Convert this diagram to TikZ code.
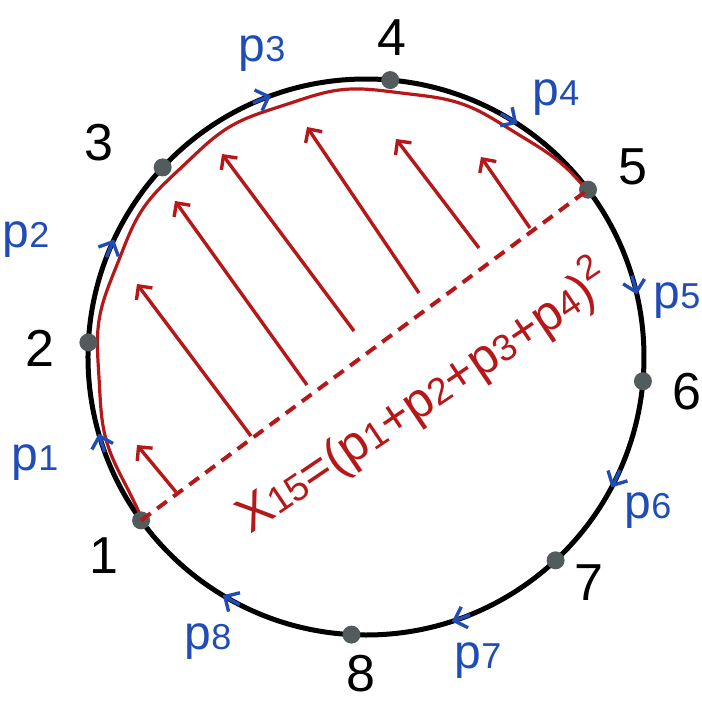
\documentclass[tikz,border=0pt]{standalone}
\usepackage{fontspec}
\setmainfont{Liberation Sans}
\usetikzlibrary{arrows.meta,calc}
\definecolor{inkred}{RGB}{182,24,26}
\definecolor{inkblue}{RGB}{32,76,182}
\definecolor{dotgray}{RGB}{82,92,92}
\newcommand{\mom}[1]{p\scalebox{0.75}{#1}}
\tikzset{
  rim/.style     = {line width=2.5pt, black},
  vdot/.style    = {circle, fill=dotgray, inner sep=0pt, minimum size=9pt},
  numlab/.style  = {font=\fontsize{26}{26}\selectfont},
  momlab/.style  = {text=inkblue, font=\fontsize{24}{24}\selectfont},
  momtip/.style  = {inkblue, line width=1.7pt, -{Straight Barb[length=5.5pt,width=11pt]}},
  cut/.style     = {inkred, line width=2pt, dash pattern=on 6pt off 4pt},
  wave/.style    = {inkred, line width=1.6pt},
  flow/.style    = {inkred, line width=1.7pt, -{Straight Barb[length=5pt,width=10pt]}},
  formula/.style = {text=inkred, font=\fontsize{25}{25}\selectfont, inner sep=0pt},
}

\begin{document}
\begin{tikzpicture}[x=0.5pt,y=0.5pt]
  \useasboundingbox (-366,-346) rectangle (336,357);
  \draw[rim] (0,0) circle (278);
  % wobbly edge of the region cut off by the chord 1--5
  \draw[wave] plot[domain=216:37,samples=100,smooth]
      (\x:{278-12*sqrt(abs(sin(1.0056*(\x-37))))+1.5*sin(14*(\x-37))});
  \foreach \i/\a in {1/216,2/177,3/137,4/85,5/37,6/-5,7/-47,8/267}
    \node[vdot] (v\i) at (\a:278) {};
  \draw[cut] (v1.center) -- (v5.center);
  % arrows sweeping across the region
  \foreach \sx/\sy/\tx/\ty [count=\k] in {-190/-135/-229/-88, -115/-79/-229/73,
      -59/-28/-191/156, -12/26/-144/203, 53/64/-59/230, 113/109/30/218, 164/129/115/200}
  {
    \coordinate (s\k) at (\sx,\sy);
    \coordinate (t\k) at (\tx,\ty);
    \draw[flow] (s\k) -- (t\k);
  }
  % vertex numbers
  \foreach \i/\x/\y in {1/-262/-199, 2/-326/9, 3/-267/214, 4/26/319,
      5/267/190, 6/321/-35, 7/223/-226, 8/-5/-317}
    \node[numlab] (n\i) at (\x,\y) {\i};
  % momenta, all running clockwise
  \foreach \i/\a/\x/\y [evaluate=\a as \b using \a+4] in {1/196/-331/-106,
      2/155/-340/117, 3/110/-104/303, 4/57/190/259, 5/13/311/56,
      6/-28/282/-154, 7/-72/112/-304, 8/239/-158/-285}
  {
    \draw[momtip] (\b:278) arc[start angle=\b, end angle=\a, radius=278];
    \node[momlab] (p\i) at (\x,\y) {\mom{\i}};
  }
  \node[formula, rotate=34] (x15) at (57,-40)
      {X\scalebox{0.75}{15}=(\mom{1}+\mom{2}+\mom{3}+\mom{4})\raisebox{0.8ex}{\scalebox{0.7}{2}}};
\end{tikzpicture}
\end{document}
